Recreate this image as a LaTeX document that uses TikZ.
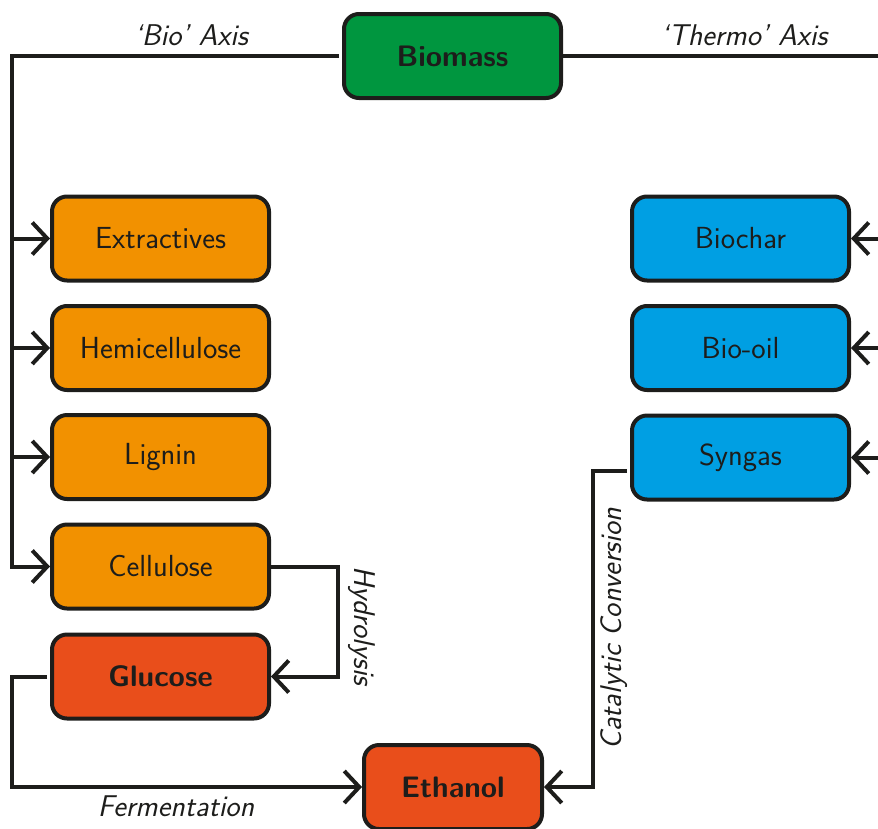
\documentclass[tikz,border=0pt]{standalone}
\usepackage{fontspec}
\usetikzlibrary{arrows.meta,calc}
\definecolor{ink}{HTML}{1D1D1B}
\definecolor{cgreen}{HTML}{00963F}
\definecolor{corange}{HTML}{F29100}
\definecolor{cred}{HTML}{E94E1B}
\definecolor{cblue}{HTML}{009FE3}
\tikzset{
  box/.style={draw=ink, line width=4pt, rounded corners=15pt, inner sep=0pt,
    minimum width=217pt, minimum height=84pt, text=ink,
    font=\sffamily\fontsize{30.5}{36}\selectfont},
  boldbox/.style={box, font=\sffamily\bfseries\fontsize{29.6}{35}\selectfont},
  conn/.style={draw=ink, line width=4pt},
  arr/.style={conn, -{Straight Barb[length=15pt,width=32pt]}},
  lab/.style={text=ink, inner sep=0pt, font=\sffamily\slshape\fontsize{30}{36}\selectfont},
}
\begin{document}
\begin{tikzpicture}[x=1pt,y=-1pt]
\useasboundingbox (0,0) rectangle (878,828);
% nodes
\node[boldbox, fill=cgreen] (biomass) at (452.5,56) {Biomass};
\node[box, fill=corange] (extractives) at (160.5,238.5) {Extractives};
\node[box, fill=corange] (hemi) at (160.5,348) {Hemicellulose};
\node[box, fill=corange] (lignin) at (160.5,457) {Lignin};
\node[box, fill=corange] (cellulose) at (160.5,566.5) {Cellulose};
\node[boldbox, fill=cred] (glucose) at (160.5,676.5) {Glucose};
\node[box, fill=cblue] (biochar) at (740.5,238.5) {Biochar};
\node[box, fill=cblue] (biooil) at (740.5,348) {Bio-oil};
\node[box, fill=cblue] (syngas) at (740.5,457.5) {Syngas};
\node[boldbox, fill=cred, minimum width=178pt] (ethanol) at (453,787) {Ethanol};
% helper coordinates
\coordinate (L) at (12,0);
\coordinate (R) at (895,0);
\coordinate (H) at (338,0);
\coordinate (C) at (593,0);
\coordinate (sw) at ($(syngas.west)+(-3,13)$);
\coordinate (gw) at ($(glucose.west)+(-3,0)$);
\coordinate (bw) at ($(biomass.west)+(-3,0)$);
% bio axis
\draw[arr] (bw) -- (bw -| L) -- (L |- cellulose) -- (cellulose.west);
\draw[arr] (L |- extractives) -- (extractives.west);
\draw[arr] (L |- hemi) -- (hemi.west);
\draw[arr] (L |- lignin) -- (lignin.west);
% thermo axis
\draw[conn] (biomass.east) -- (biomass.east -| R) -- (R |- syngas);
\draw[arr] (R |- biochar) -- (biochar.east);
\draw[arr] (R |- biooil) -- (biooil.east);
\draw[arr] (R |- syngas) -- (syngas.east);
% hydrolysis
\draw[arr] (cellulose.east) -- (cellulose.east -| H) -- (H |- glucose) -- (glucose.east);
% fermentation
\draw[arr] (gw) -- (gw -| L) -- (L |- ethanol) -- (ethanol.west);
% catalytic conversion
\draw[arr] (sw) -- (sw -| C) -- (C |- ethanol) -- (ethanol.east);
% labels
\node[lab] (lbio) at (191,35) {‘Bio’ Axis};
\node[lab] (lthermo) at (744,35) {‘Thermo’ Axis};
\node[lab, rotate=-90] (lhyd) at (362,626) {Hydrolysis};
\node[lab] (lferm) at (176,806) {Fermentation};
\node[lab, rotate=90] (lcat) at (614,629) {Catalytic Conversion};
\end{tikzpicture}
\end{document}
